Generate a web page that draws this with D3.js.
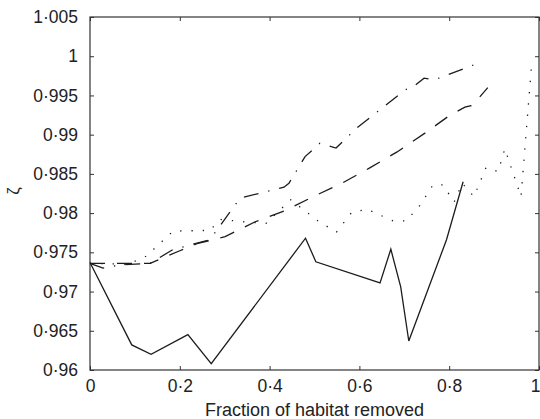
<!DOCTYPE html>
<html lang="en">
<head>
    <meta charset="UTF-8" />
    <title>Fraction of habitat removed vs zeta</title>
    <script src="https://d3js.org/d3.v7.min.js"></script>
    <style>
        body, html {
            margin: 0;
            padding: 0;
            background: #fff;
            font-family: "Liberation Sans", Arial, sans-serif;
        }
        .tick text {
            font-size: 17.5px;
            fill: #222;
        }
        .line {
            fill: none;
            stroke: #1c1c1c;
            stroke-width: 1.3px;
        }
    </style>
</head>
<body>
    <div id="chart"></div>

    <script>
        // values
        const xTicks = [0, 0.2, 0.4, 0.6, 0.8, 1];
        const yTicks = [0.96, 0.965, 0.97, 0.975, 0.98, 0.985, 0.99, 0.995, 1, 1.005];

        const solidX = [0, 0.093, 0.136, 0.218, 0.27, 0.48, 0.503, 0.646, 0.67, 0.692, 0.71, 0.794, 0.831];
        const solidY = [0.9737, 0.9632, 0.962, 0.9645, 0.9608, 0.9768, 0.9738, 0.9711, 0.9754, 0.9706, 0.9637, 0.9766, 0.984];

        const dashDotX = [0, 0.029, 0.067, 0.134, 0.183, 0.234, 0.267, 0.334, 0.432, 0.443, 0.479, 0.497, 0.512, 0.548, 0.595, 0.702, 0.724, 0.744, 0.768, 0.873];
        const dashDotY = [0.9736, 0.973, 0.9734, 0.9736, 0.9753, 0.9761, 0.9766, 0.9819, 0.9833, 0.9838, 0.9872, 0.9881, 0.9889, 0.9883, 0.9909, 0.9957, 0.9963, 0.9972, 0.997, 0.9993];

        const dashedX = [0, 0.134, 0.2, 0.238, 0.301, 0.368, 0.434, 0.497, 0.561, 0.624, 0.684, 0.746, 0.802, 0.835, 0.849, 0.862, 0.886];
        const dashedY = [0.9736, 0.9736, 0.9752, 0.9761, 0.977, 0.9789, 0.9803, 0.9821, 0.9838, 0.9858, 0.9878, 0.9902, 0.9925, 0.9935, 0.9937, 0.9944, 0.996];

        const dottedX = [0, 0.085, 0.125, 0.185, 0.267, 0.29, 0.341, 0.392, 0.447, 0.51, 0.549, 0.583, 0.617, 0.675, 0.704, 0.735, 0.764, 0.786, 0.811, 0.829, 0.855, 0.882, 0.909, 0.924, 0.96, 0.984];
        const dottedY = [0.9736, 0.9735, 0.9745, 0.9777, 0.9778, 0.9792, 0.9789, 0.9787, 0.9817, 0.9789, 0.9776, 0.9801, 0.9805, 0.979, 0.979, 0.981, 0.9836, 0.9836, 0.9814, 0.9838, 0.9821, 0.9858, 0.9853, 0.9882, 0.9821, 0.9993];

        const width = 540;
        const height = 419;
        const margin = {top: 17, right: 1, bottom: 49, left: 90};

        const svg = d3.select("#chart").append("svg")
            .attr("width", width)
            .attr("height", height);

        const x = d3.scaleLinear().domain([0, 1]).range([margin.left, width - margin.right]);
        const y = d3.scaleLinear().domain([0.96, 1.005]).range([height - margin.bottom, margin.top]);

        const fmt = d => String(+d.toFixed(3)).replace(".", "\u00b7");

        // ticks point inwards on all four sides
        svg.append("g")
            .attr("transform", `translate(0,${y(0.96)})`)
            .call(d3.axisBottom(x).tickValues(xTicks).tickSizeInner(-4).tickSizeOuter(0).tickPadding(10).tickFormat(fmt))
            .call(g => g.select(".domain").remove())
            // the last label sits on the page edge, keep it inside
            .call(g => g.selectAll(".tick text").filter(d => d === 1).attr("text-anchor", "end").attr("dx", 1));

        svg.append("g")
            .attr("transform", `translate(0,${y(1.005)})`)
            .call(d3.axisTop(x).tickValues(xTicks).tickSizeInner(-4).tickSizeOuter(0).tickFormat(""))
            .call(g => g.select(".domain").remove());

        svg.append("g")
            .attr("transform", `translate(${x(0)},0)`)
            .call(d3.axisLeft(y).tickValues(yTicks).tickSizeInner(-4).tickSizeOuter(0).tickPadding(12).tickFormat(fmt))
            .call(g => g.select(".domain").remove());

        svg.append("g")
            .attr("transform", `translate(${x(1)},0)`)
            .call(d3.axisRight(y).tickValues(yTicks).tickSizeInner(-4).tickSizeOuter(0).tickFormat(""))
            .call(g => g.select(".domain").remove());

        svg.selectAll(".tick line").attr("stroke", "#333");
        svg.selectAll(".tick text").style("font-family", "'Liberation Sans', Arial, sans-serif");

        svg.append("rect")
            .attr("x", x(0))
            .attr("y", y(1.005))
            .attr("width", x(1) - x(0))
            .attr("height", y(0.96) - y(1.005))
            .attr("fill", "none")
            .attr("stroke", "#333")
            .attr("stroke-width", 1.2);

        const line = d3.line().x(d => x(d[0])).y(d => y(d[1]));

        const series = [
            {xs: solidX, ys: solidY, dash: null},
            {xs: dashDotX, ys: dashDotY, dash: "15 10 1.3 10"},
            {xs: dashedX, ys: dashedY, dash: "15 12"},
            {xs: dottedX, ys: dottedY, dash: "1.3 10"}
        ];

        series.forEach(s => {
            svg.append("path")
                .attr("class", "line")
                .attr("d", line(d3.zip(s.xs, s.ys)))
                .attr("stroke-dasharray", s.dash);
        });

        svg.append("text")
            .attr("x", (x(0) + x(1)) / 2)
            .attr("y", 416)
            .attr("text-anchor", "middle")
            .style("font-size", "18px")
            .style("fill", "#222")
            .text("Fraction of habitat removed");

        svg.append("text")
            .attr("transform", "translate(19,191) rotate(-90)")
            .attr("text-anchor", "middle")
            .style("font-size", "17px")
            .style("fill", "#222")
            .text("\u03b6");
    </script>
</body>
</html>
